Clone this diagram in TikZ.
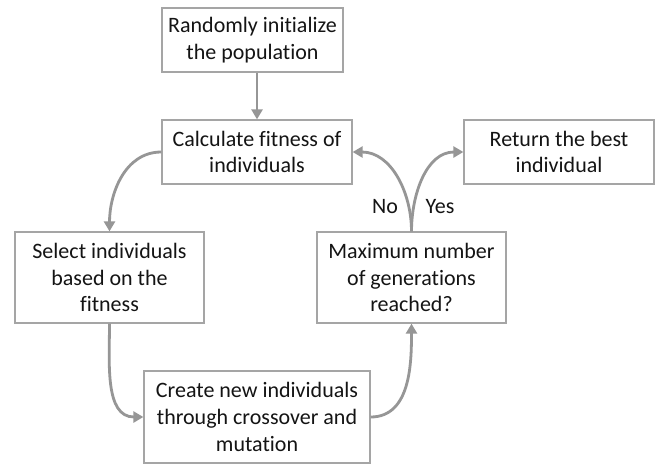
\documentclass[tikz,border=0pt]{standalone}
\usepackage{fontspec}
\setmainfont{Carlito}[RawFeature=-liga]
\usetikzlibrary{arrows.meta}
\begin{document}
\begin{tikzpicture}[x=1pt,y=-1pt,
  box/.style={draw={rgb,255:red,165;green,165;blue,165}, line width=1.3pt, fill=white,
    align=center, inner sep=0pt, font=\fontsize{22}{26.7}\selectfont, text=black!92},
  conn/.style={draw={rgb,255:red,150;green,150;blue,150}, line width=2.8pt,
    -{Triangle[length=10pt,width=11pt]}},
  lbl/.style={font=\fontsize{22}{26}\selectfont, text=black!92}]
\fill[white] (0,0) rectangle (655,464);
\useasboundingbox (0,0) rectangle (655,464);
\node[box, minimum width=181pt, minimum height=64pt] (init) at (252.5,40) {Randomly initialize\\the population};
\node[box, minimum width=190pt, minimum height=64pt] (calc) at (257,152) {Calculate fitness of\\individuals};
\node[box, minimum width=189pt, minimum height=91pt] (sel) at (109.5,277.5) {Select individuals\\based on the\\fitness};
\node[box, minimum width=189pt, minimum height=91pt] (max) at (411.5,277.5) {Maximum number\\of generations\\reached?};
\node[box, minimum width=190pt, minimum height=64pt] (ret) at (559,152) {Return the best\\individual};
\node[box, minimum width=226pt, minimum height=92pt] (new) at (257,417) {Create new individuals\\through crossover and\\mutation};
\draw[conn] (init.south -| calc.north) -- (calc.north);
\draw[conn] (calc.west) to[out=180,in=90] (sel.north);
\draw[conn] (sel.south) to[out=270,in=180] (new.west);
\draw[conn] (new.east) to[out=0,in=270] (max.south);
\draw[conn] (max.north) to[out=90,in=0] (calc.east);
\draw[conn] (max.north) to[out=90,in=180] (ret.west);
\node[lbl] (no) at (385,207) {No};
\node[lbl] (yes) at (440,207) {Yes};
\end{tikzpicture}
\end{document}
